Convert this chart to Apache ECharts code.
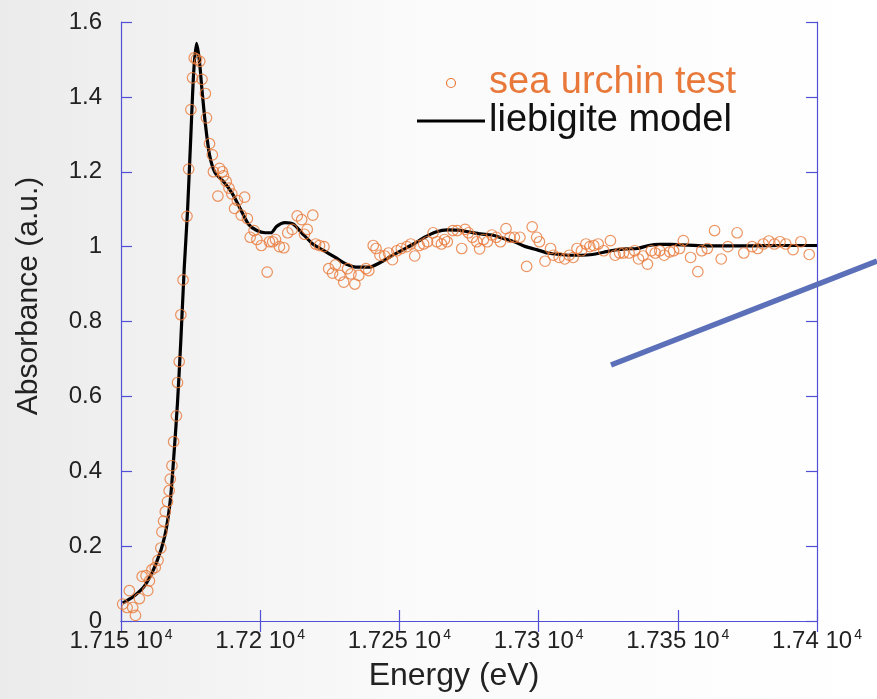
<!DOCTYPE html>
<html>
<head>
<meta charset="utf-8">
<script src="https://cdn.jsdelivr.net/npm/echarts@6/dist/echarts.min.js"></script>
<style>
  html, body { margin: 0; padding: 0; }
  #chart { width: 877px; height: 699px; }
</style>
</head>
<body>
<div id="chart"></div>
<script>
// sea urchin test (measured points)
const testEnergy = [
  17150.6, 17152.2, 17153.0, 17154.2, 17155.2, 17156.6, 17157.6, 17159.0, 17159.6, 17160.2,
  17161.1, 17162.3, 17163.3, 17164.3, 17164.7, 17165.3, 17165.9, 17166.7, 17167.3, 17167.7,
  17168.3, 17168.9, 17169.9, 17170.3, 17170.9, 17171.5, 17172.3, 17173.7, 17174.3, 17175.1,
  17175.7, 17176.3, 17177.1, 17178.3, 17179.1, 17180.3, 17180.7, 17181.8, 17182.8, 17183.2,
  17184.8, 17185.4, 17186.4, 17186.8, 17187.8, 17188.8, 17189.8, 17190.8, 17191.8, 17193.2,
  17194.4, 17195.4, 17196.4, 17197.8, 17198.8, 17200.4, 17202.5, 17203.3, 17204.5, 17205.5,
  17206.9, 17208.5, 17209.9, 17211.5, 17213.3, 17214.9, 17215.9, 17216.9, 17218.9, 17219.9,
  17221.3, 17222.9, 17224.6, 17226.0, 17227.0, 17228.6, 17230.0, 17231.4, 17232.6, 17234.0,
  17235.4, 17238.0, 17239.0, 17240.6, 17241.6, 17243.0, 17244.7, 17246.1, 17247.5, 17249.1,
  17250.7, 17252.7, 17254.1, 17255.5, 17257.1, 17258.7, 17260.1, 17262.1, 17263.5, 17265.1,
  17266.2, 17267.2, 17269.2, 17270.8, 17272.4, 17273.6, 17274.8, 17276.2, 17277.8, 17278.8,
  17280.2, 17281.6, 17283.2, 17284.8, 17286.3, 17288.3, 17289.7, 17291.3, 17293.3, 17295.7,
  17297.7, 17299.3, 17300.3, 17302.3, 17304.3, 17305.3, 17307.4, 17309.4, 17311.0, 17312.4,
  17313.8, 17315.4, 17317.0, 17318.4, 17319.8, 17321.4, 17323.4, 17325.8, 17327.5, 17329.1,
  17330.5, 17332.5, 17334.5, 17335.9, 17337.5, 17339.1, 17340.5, 17341.9, 17343.5, 17345.1,
  17347.1, 17348.5, 17350.6, 17352.0, 17354.6, 17357.2, 17358.6, 17360.6, 17363.2, 17365.6,
  17368.0, 17371.3, 17373.7, 17376.7, 17378.7, 17380.7, 17382.7, 17384.7, 17386.7, 17388.8,
  17391.4, 17394.2, 17397.2
];
const testAbs = [
  0.045, 0.036, 0.081, 0.036, 0.015, 0.060, 0.119, 0.121, 0.081, 0.107,
  0.137, 0.143, 0.162, 0.195, 0.238, 0.267, 0.292, 0.319, 0.348, 0.379,
  0.415, 0.479, 0.548, 0.637, 0.693, 0.818, 0.911, 1.081, 1.207, 1.366,
  1.451, 1.504, 1.501, 1.495, 1.447, 1.409, 1.344, 1.275, 1.245, 1.200,
  1.135, 1.209, 1.200, 1.189, 1.174, 1.156, 1.141, 1.102, 1.123, 1.084,
  1.132, 1.075, 1.025, 1.043, 1.019, 1.003, 0.932, 1.013, 1.013, 1.019,
  1.000, 0.997, 1.037, 1.046, 1.082, 1.072, 1.033, 1.046, 1.084, 1.007,
  1.003, 1.000, 0.941, 0.929, 0.951, 0.923, 0.905, 0.941, 0.927, 0.900,
  0.923, 0.941, 0.936, 1.003, 0.995, 0.977, 0.975, 0.983, 0.965, 0.989,
  0.995, 1.000, 1.007, 0.975, 1.003, 1.007, 1.013, 1.037, 1.013, 1.007,
  1.019, 1.013, 1.043, 1.043, 0.995, 1.046, 1.037, 1.025, 1.013, 0.994,
  1.019, 1.013, 1.031, 1.025, 1.013, 1.048, 1.025, 1.025, 1.025, 0.947,
  1.053, 1.025, 1.013, 0.961, 0.995, 0.977, 0.971, 0.967, 0.977, 0.971,
  0.995, 0.989, 1.007, 1.000, 1.003, 1.007, 0.989, 1.016, 0.977, 0.983,
  0.983, 0.983, 0.989, 0.967, 0.975, 0.953, 0.989, 0.983, 0.989, 0.977,
  0.986, 0.989, 0.995, 1.016, 0.971, 0.933, 0.989, 0.995, 1.043, 0.967,
  1.000, 1.037, 0.983, 1.000, 0.995, 1.007, 1.015, 1.007, 1.013, 1.007,
  0.992, 1.013, 0.979
];

// liebigite model (fit curve)
const modelEnergy = [
  17150.6, 17154.6, 17158.6, 17162.7, 17165.7, 17167.7, 17169.1, 17170.3, 17171.5, 17172.7,
  17173.9, 17175.1, 17176.1, 17177.1, 17178.1, 17179.1, 17180.3, 17181.8, 17183.8, 17186.8,
  17189.8, 17192.8, 17195.8, 17198.8, 17201.8, 17203.9, 17205.9, 17208.9, 17211.9, 17214.9,
  17218.9, 17222.9, 17227.0, 17231.0, 17235.0, 17239.0, 17243.0, 17247.1, 17251.1, 17255.1,
  17259.1, 17263.1, 17267.2, 17271.2, 17275.2, 17279.2, 17283.2, 17287.3, 17291.3, 17295.3,
  17299.3, 17303.3, 17307.4, 17311.4, 17315.4, 17319.4, 17323.4, 17327.5, 17331.5, 17335.5,
  17339.5, 17343.5, 17347.5, 17359.6, 17375.7, 17387.7, 17400.0
];
const modelAbs = [
  0.048, 0.066, 0.095, 0.155, 0.226, 0.322, 0.453, 0.584, 0.751, 0.941,
  1.096, 1.299, 1.465, 1.543, 1.501, 1.418, 1.328, 1.245, 1.197, 1.174,
  1.144, 1.102, 1.060, 1.043, 1.037, 1.037, 1.054, 1.064, 1.060, 1.037,
  1.007, 0.989, 0.971, 0.953, 0.945, 0.945, 0.957, 0.975, 0.991, 1.007,
  1.025, 1.039, 1.045, 1.044, 1.039, 1.034, 1.031, 1.022, 1.013, 1.000,
  0.992, 0.983, 0.979, 0.977, 0.977, 0.979, 0.985, 0.991, 0.994, 0.995,
  1.003, 1.006, 1.006, 1.002, 1.002, 1.003, 1.003
];

const seriesNames = ['sea urchin test', 'liebigite model'];

const axisColor = '#5050d6';
const orange = '#e8793a';
const font = 'Liberation Sans, Arial, sans-serif';

const chart = echarts.init(document.getElementById('chart'));

function energyLabel(v) {
  const m = parseFloat((v / 10000).toFixed(4)).toString();
  return '{a|' + m + ' 10}{s|4}';
}

const frameAxis = {
  axisLine: { show: true, lineStyle: { color: axisColor, width: 1.2 } },
  axisTick: { show: true, inside: true, length: 11, lineStyle: { color: axisColor, width: 1.2 } },
  splitLine: { show: false }
};

chart.setOption({
  backgroundColor: {
    type: 'linear', x: 0, y: 0, x2: 1, y2: 0,
    colorStops: [
      { offset: 0, color: '#ebebeb' },
      { offset: 0.45, color: '#fafafa' },
      { offset: 1, color: '#ffffff' }
    ]
  },
  animation: false,
  grid: { left: 121, right: 60, top: 22, bottom: 78 },
  xAxis: [
    Object.assign({
      type: 'value', min: 17150, max: 17400, interval: 50,
      axisLabel: {
        margin: 7,
        formatter: energyLabel,
        rich: {
          a: { fontFamily: font, fontSize: 24, color: '#222' },
          s: { fontFamily: font, fontSize: 14, color: '#222', verticalAlign: 'top', padding: [0, 0, 13, 2] }
        }
      }
    }, frameAxis),
    Object.assign({
      type: 'value', min: 17150, max: 17400, interval: 50, position: 'top',
      axisLabel: { show: false }
    }, frameAxis)
  ],
  yAxis: [
    Object.assign({
      type: 'value', min: 0, max: 1.6, interval: 0.2,
      axisLabel: { margin: 19, fontFamily: font, fontSize: 24, color: '#222' }
    }, frameAxis),
    Object.assign({
      type: 'value', min: 0, max: 1.6, interval: 0.2, position: 'right',
      axisLabel: { show: false }
    }, frameAxis)
  ],
  series: [
    {
      name: seriesNames[1],
      type: 'line',
      data: modelEnergy.map((e, i) => [e, modelAbs[i]]),
      showSymbol: false,
      smooth: 0.25,
      lineStyle: { color: '#000', width: 3.2 },
      z: 2
    },
    {
      name: seriesNames[0],
      type: 'scatter',
      data: testEnergy.map((e, i) => [e, testAbs[i]]),
      symbol: 'circle',
      symbolSize: 10.5,
      itemStyle: { color: 'rgba(0,0,0,0)', borderColor: orange, borderWidth: 1.2 },
      z: 3
    }
  ],
  graphic: [
    // legend
    { type: 'circle', shape: { cx: 451, cy: 83, r: 4.5 }, style: { fill: 'none', stroke: orange, lineWidth: 1.2 } },
    { type: 'text', x: 489, y: 83, style: { text: seriesNames[0], fill: orange, font: '38px ' + font, textVerticalAlign: 'middle' } },
    { type: 'line', shape: { x1: 417, y1: 121, x2: 485, y2: 121 }, style: { stroke: '#000', lineWidth: 3 } },
    { type: 'text', x: 489, y: 121, style: { text: seriesNames[1], fill: '#111', font: '38px ' + font, textVerticalAlign: 'middle' } },
    // axis titles
    { type: 'text', x: 454, y: 676, style: { text: 'Energy (eV)', fill: '#222', font: '32px ' + font, textAlign: 'center', textVerticalAlign: 'middle' } },
    { type: 'text', x: 29, y: 296, rotation: Math.PI / 2, style: { text: 'Absorbance (a.u.)', fill: '#222', font: '30px ' + font, textAlign: 'center', textVerticalAlign: 'middle' } },
    // blue pointer line on the slide
    { type: 'line', z: 100, shape: { x1: 611, y1: 365, x2: 877, y2: 261 }, style: { stroke: '#5b70b8', lineWidth: 5.5 } }
  ]
});
</script>
</body>
</html>
